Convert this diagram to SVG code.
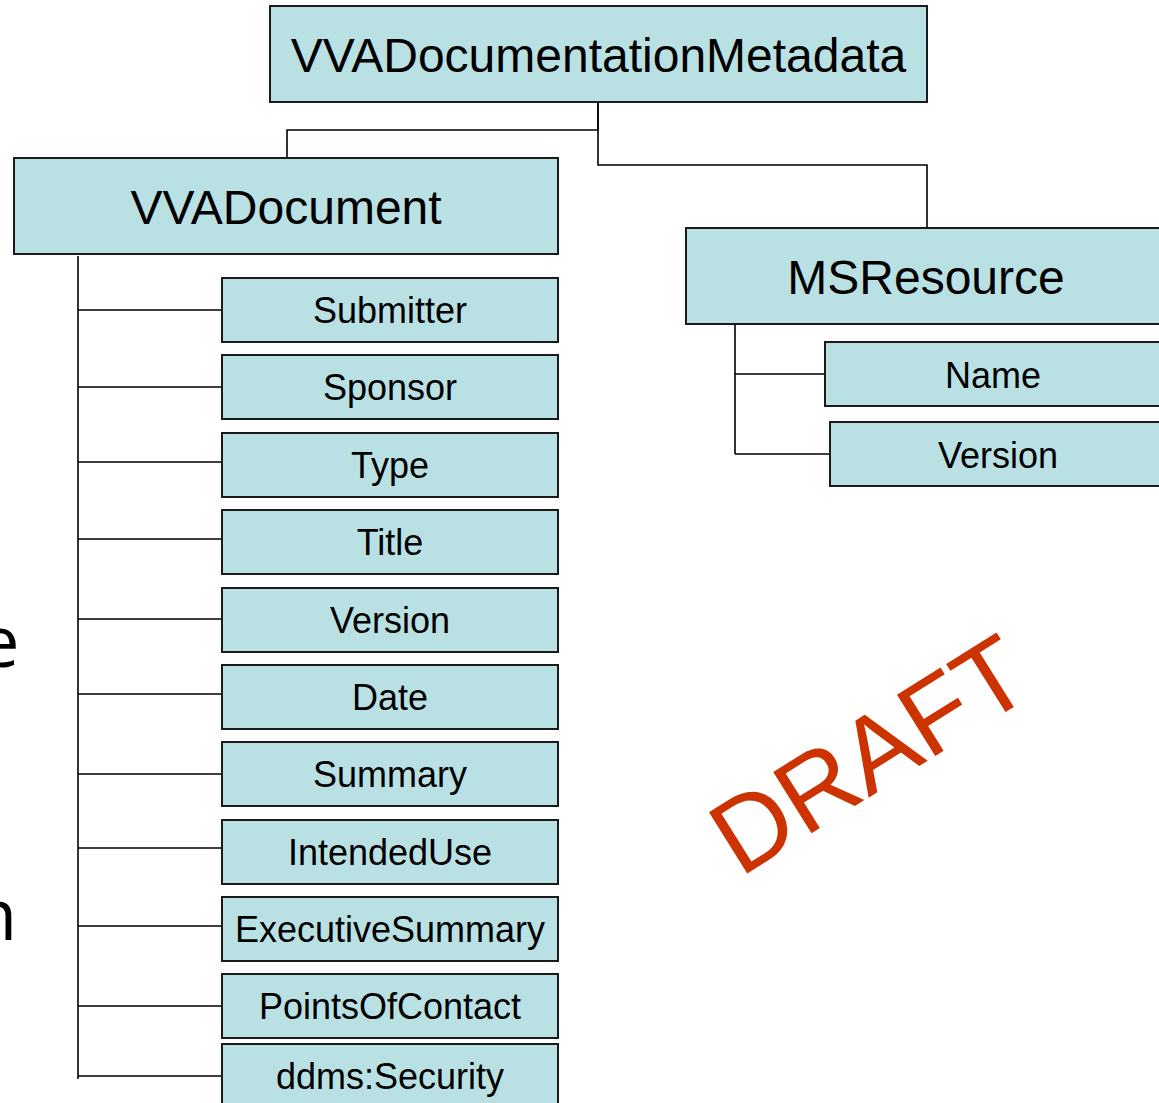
<svg xmlns="http://www.w3.org/2000/svg" width="1159" height="1103" viewBox="0 0 1159 1103">
<style>
.box{fill:#B9E0E3;stroke:#1a1a1a;stroke-width:2}
.t{font-family:"Liberation Sans",Arial,sans-serif;fill:#000;text-anchor:middle}
.big{font-size:48px}
.sm{font-size:36px}
.ln{fill:none;stroke:#000;stroke-width:1.6}
.frag{font-family:"Open Sans","Liberation Sans",sans-serif;font-size:72px;fill:#000}
</style>
<rect width="1159" height="1103" fill="#fff"/>
<text class="frag" x="-21" y="667">e</text>
<text class="frag" x="-27" y="940">n</text>
<g id="connectors">
<path class="ln" d="M598,102 V165 H927 V228" />
<path class="ln" d="M598,102 V130" stroke-width="3"/>
<path class="ln" d="M598,130 H287 V158" />
<path class="ln" d="M78,256 V1079" />
<path class="ln" d="M78,310 H222 M78,387 H222 M78,462 H222 M78,539 H222 M78,619 H222 M78,694 H222 M78,774 H222 M78,848 H222 M78,926 H222 M78,1006 H222 M78,1076 H222" />
<path class="ln" d="M735,324 V454 M735,374 H825 M735,454 H830" />
</g>
<g id="n-root"><rect class="box" x="270" y="6" width="657" height="96"/><text class="t big" x="598.5" y="72">VVADocumentationMetadata</text></g>
<g id="n-vvadocument"><rect class="box" x="14" y="158" width="544" height="96"/><text class="t big" x="286" y="224">VVADocument</text></g>
<g id="n-msresource"><rect class="box" x="686" y="228" width="480" height="96"/><text class="t big" x="926" y="294">MSResource</text></g>
<g id="n-name"><rect class="box" x="825" y="342" width="340" height="64"/><text class="t sm" x="993" y="388">Name</text></g>
<g id="n-msversion"><rect class="box" x="830" y="422" width="340" height="64"/><text class="t sm" x="998" y="468">Version</text></g>
<g id="n-submitter"><rect class="box" x="222" y="278" width="336" height="64"/><text class="t sm" x="390" y="323">Submitter</text></g>
<g id="n-sponsor"><rect class="box" x="222" y="355" width="336" height="64"/><text class="t sm" x="390" y="400">Sponsor</text></g>
<g id="n-type"><rect class="box" x="222" y="433" width="336" height="64"/><text class="t sm" x="390" y="478">Type</text></g>
<g id="n-title"><rect class="box" x="222" y="510" width="336" height="64"/><text class="t sm" x="390" y="555">Title</text></g>
<g id="n-version"><rect class="box" x="222" y="588" width="336" height="64"/><text class="t sm" x="390" y="633">Version</text></g>
<g id="n-date"><rect class="box" x="222" y="665" width="336" height="64"/><text class="t sm" x="390" y="710">Date</text></g>
<g id="n-summary"><rect class="box" x="222" y="742" width="336" height="64"/><text class="t sm" x="390" y="787">Summary</text></g>
<g id="n-intendeduse"><rect class="box" x="222" y="820" width="336" height="64"/><text class="t sm" x="390" y="865">IntendedUse</text></g>
<g id="n-executivesummary"><rect class="box" x="222" y="897" width="336" height="64"/><text class="t sm" x="390" y="942">ExecutiveSummary</text></g>
<g id="n-pointsofcontact"><rect class="box" x="222" y="974" width="336" height="64"/><text class="t sm" x="390" y="1019">PointsOfContact</text></g>
<g id="n-security"><rect class="box" x="222" y="1044" width="336" height="64"/><text class="t sm" x="390" y="1089">ddms:Security</text></g>
<text font-family="Liberation Sans,Arial,sans-serif" font-size="105" fill="#CC3300" transform="translate(740,878) rotate(-32)">DRAFT</text>
</svg>
